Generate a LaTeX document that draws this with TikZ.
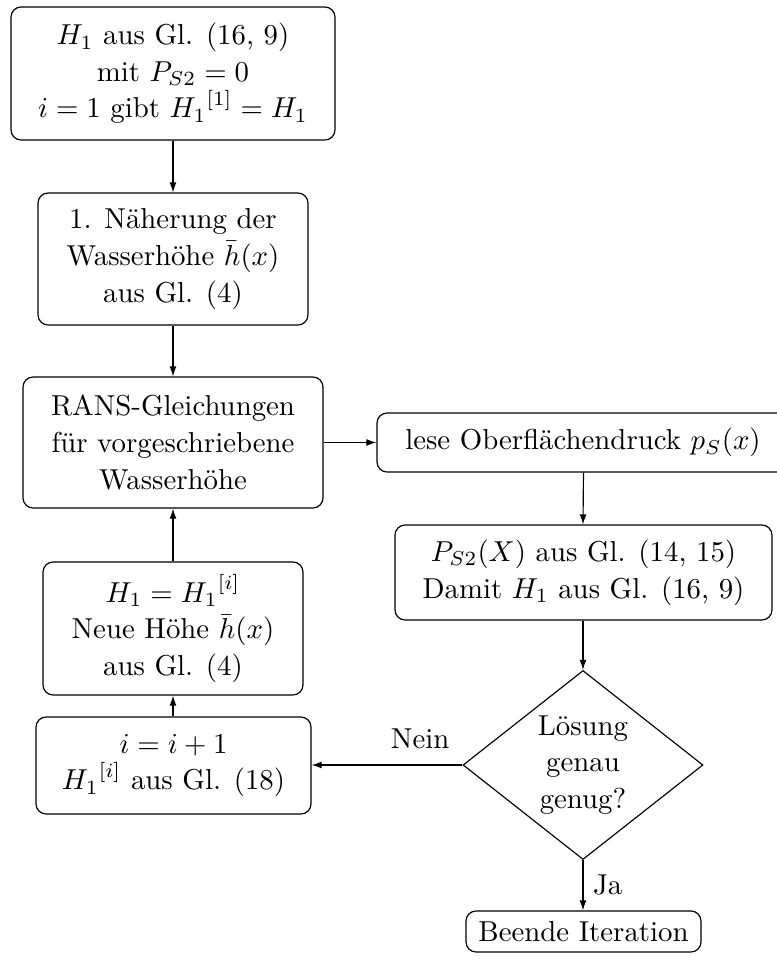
\documentclass[tikz,border=0pt]{standalone}
\usetikzlibrary{shapes.geometric,arrows.meta}
\begin{document}
\begin{tikzpicture}[x=0.347pt,y=-0.347pt,
  box/.style={draw,rounded corners=3.5pt,inner sep=0pt,align=center,
    font=\fontsize{10}{12.7}\selectfont},
  dia/.style={draw,diamond,inner sep=0pt,align=center,
    font=\fontsize{10}{12.7}\selectfont},
  lbl/.style={font=\fontsize{10}{12.7}\selectfont},
  arr/.style={-{Latex[length=3.5pt,width=2.4pt]},line width=0.4pt}]
\useasboundingbox (0,0) rectangle (777,960);
\node[box,minimum width=324*0.347pt,minimum height=133*0.347pt] (b1) at (173,73.5)
  {$H_1$ aus Gl. (16, 9)\\ mit $P_{S2}=0$\\ $i=1$ gibt ${H_1}^{[1]}=H_1$};
\node[box,minimum width=270*0.347pt,minimum height=132*0.347pt] (b2) at (173,259)
  {1. Näherung der\\ Wasserhöhe $\bar h(x)$\\ aus Gl. (4)};
\node[box,minimum width=300*0.347pt,minimum height=131*0.347pt] (b3) at (173,442.5)
  {RANS-Gleichungen\\ für vorgeschriebene\\ Wasserhöhe};
\node[box,minimum width=260*0.347pt,minimum height=133*0.347pt] (b4) at (173,628.5)
  {$H_1={H_1}^{[i]}$\\ Neue Höhe $\bar h(x)$\\ aus Gl. (4)};
\node[box,minimum width=275*0.347pt,minimum height=97*0.347pt] (b5) at (173.5,765.5)
  {$i=i+1$\\ ${H_1}^{[i]}$ aus Gl. (18)};
\node[box,minimum width=412*0.347pt,minimum height=59*0.347pt] (b6) at (583,442.5)
  {lese Oberflächendruck $p_S(x)$};
\node[box,minimum width=377*0.347pt,minimum height=95*0.347pt] (b7) at (583.5,572.5)
  {$P_{S2}(X)$ aus Gl. (14, 15)\\ Damit $H_1$ aus Gl. (16, 9)};
\node[dia,minimum width=240*0.347pt,minimum height=184*0.347pt] (d) at (583,765)
  {Lösung\\ genau\\ genug?};
\node[box,minimum width=235*0.347pt,minimum height=41*0.347pt] (b8) at (583.5,931.5)
  {Beende Iteration};
\draw[arr] (b1) -- (b2);
\draw[arr] (b2) -- (b3);
\draw[arr] (b3) -- (b6);
\draw[arr] (b6.south -| b7.north) -- (b7.north -| b6.south);
\draw[arr] (b7.south -| d.north) -- (d.north);
\draw[arr] (d.south) -- node[lbl,right,pos=0.5] (ja) {Ja} (b8.north -| d.south);
\draw[arr] (d.west) -- node[lbl,above=2pt,pos=0.28] (nein) {Nein} (b5.east |- d.west);
\draw[arr] (b5.north -| b4.south) -- (b4.south);
\draw[arr] (b4) -- (b3);
\end{tikzpicture}
\end{document}
